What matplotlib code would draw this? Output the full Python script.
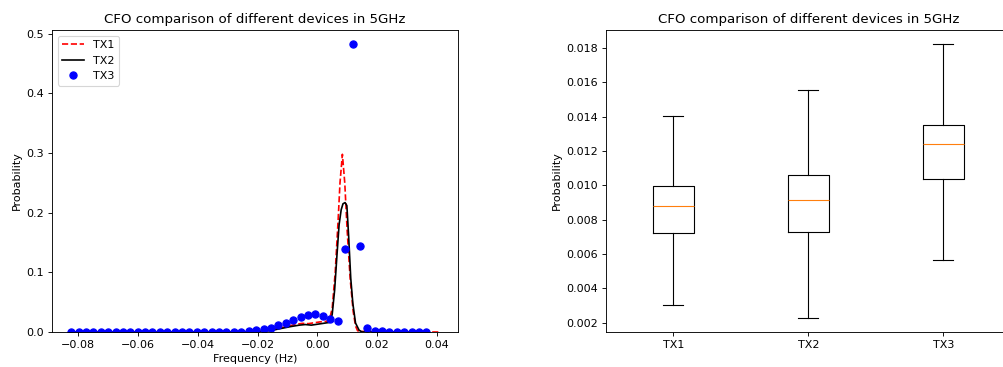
import matplotlib
matplotlib.use('Agg')
import matplotlib.pyplot as plt

# TX1 / TX2 frequency distributions
tx1_freq = [-0.0830, -0.0250, -0.0200, -0.0160, -0.0130, -0.0100, -0.0070, -0.0050, -0.0030, -0.0010,
            0.0010, 0.0030, 0.0040, 0.0050, 0.0060, 0.0070, 0.0076, 0.0084, 0.0092, 0.0100,
            0.0110, 0.0120, 0.0128, 0.0135, 0.0150, 0.0200, 0.0410]
tx1_prob = [0.0, 0.0, 0.0008, 0.003, 0.006, 0.0095, 0.013, 0.0145, 0.014, 0.0155,
            0.017, 0.018, 0.019, 0.04, 0.10, 0.19, 0.25, 0.298, 0.25, 0.17,
            0.09, 0.035, 0.01, 0.002, 0.001, 0.0, 0.0]

tx2_freq = [-0.0830, -0.0220, -0.0180, -0.0150, -0.0120, -0.0090, -0.0060, -0.0040, -0.0020, 0.0000,
            0.0020, 0.0040, 0.0045, 0.0050, 0.0058, 0.0066, 0.0073, 0.0080, 0.0086, 0.0093,
            0.0099, 0.0105, 0.0112, 0.0119, 0.0128, 0.0140, 0.0150, 0.0200, 0.0360]
tx2_prob = [0.0, 0.0, 0.001, 0.003, 0.006, 0.009, 0.0115, 0.0125, 0.0115, 0.013,
            0.0145, 0.016, 0.02, 0.03, 0.07, 0.13, 0.18, 0.205, 0.215, 0.217,
            0.212, 0.16, 0.09, 0.048, 0.015, 0.003, 0.0, 0.0, 0.0]

# TX3 histogram points
tx3_freq = [-0.0824, -0.0799, -0.0774, -0.0750, -0.0725, -0.0700, -0.0675, -0.0651, -0.0626, -0.0601,
            -0.0576, -0.0552, -0.0527, -0.0502, -0.0477, -0.0452, -0.0428, -0.0403, -0.0378, -0.0353,
            -0.0329, -0.0304, -0.0279, -0.0254, -0.0229, -0.0205, -0.0180, -0.0155, -0.0130, -0.0106,
            -0.0081, -0.0056, -0.0031, -0.0006, 0.0019, 0.0043, 0.0068, 0.0093, 0.0118, 0.0142,
            0.0167, 0.0192, 0.0217, 0.0241, 0.0266, 0.0291, 0.0316, 0.0341, 0.0365]
tx3_prob = [0.0002, 0.0002, 0.0002, 0.0002, 0.0002, 0.0002, 0.0002, 0.0002, 0.0002, 0.0002,
            0.0002, 0.0002, 0.0002, 0.0002, 0.0002, 0.0002, 0.0002, 0.0002, 0.0002, 0.0002,
            0.0002, 0.0002, 0.0003, 0.0005, 0.0011, 0.0028, 0.0045, 0.006, 0.0117, 0.0156,
            0.0195, 0.025, 0.0278, 0.0295, 0.026, 0.021, 0.0184, 0.1398, 0.4823, 0.1442,
            0.007, 0.002, 0.001, 0.0008, 0.0006, 0.0005, 0.0004, 0.0003, 0.0002]

# box plot stats per device
devices = ['TX1', 'TX2', 'TX3']
whisker_low = [0.00305, 0.00225, 0.00562]
q1 = [0.0072, 0.00725, 0.01034]
median = [0.00877, 0.00916, 0.0124]
q3 = [0.00995, 0.01061, 0.01352]
whisker_high = [0.01404, 0.01557, 0.01825]

title = 'CFO comparison of different devices in 5GHz'

fig = plt.figure(figsize=(1003 / 80, 367 / 80), dpi=80)
ax1 = fig.add_axes([52 / 1003, 35 / 367, 406 / 1003, 302 / 367])
ax2 = fig.add_axes([605.8 / 1003, 35 / 367, 405 / 1003, 302 / 367])

ax1.plot(tx1_freq, tx1_prob, 'r--', label='TX1')
ax1.plot(tx2_freq, tx2_prob, 'k-', label='TX2')
ax1.plot(tx3_freq, tx3_prob, 'bo', markersize=6.5, label='TX3')
ax1.set_xlim(-0.0888, 0.0471)
ax1.set_ylim(bottom=0)
ax1.set_xlabel('Frequency (Hz)')
ax1.set_ylabel('Probability')
ax1.set_title(title)
ax1.legend(loc='upper left')

stats = []
for name, lo, a, m, b, hi in zip(devices, whisker_low, q1, median, q3, whisker_high):
    stats.append({'label': name, 'whislo': lo, 'q1': a, 'med': m, 'q3': b, 'whishi': hi, 'fliers': []})
ax2.bxp(stats, widths=0.3)
ax2.set_ylabel('Probability')
ax2.set_title(title)

fig.savefig('out.png', dpi=80)
